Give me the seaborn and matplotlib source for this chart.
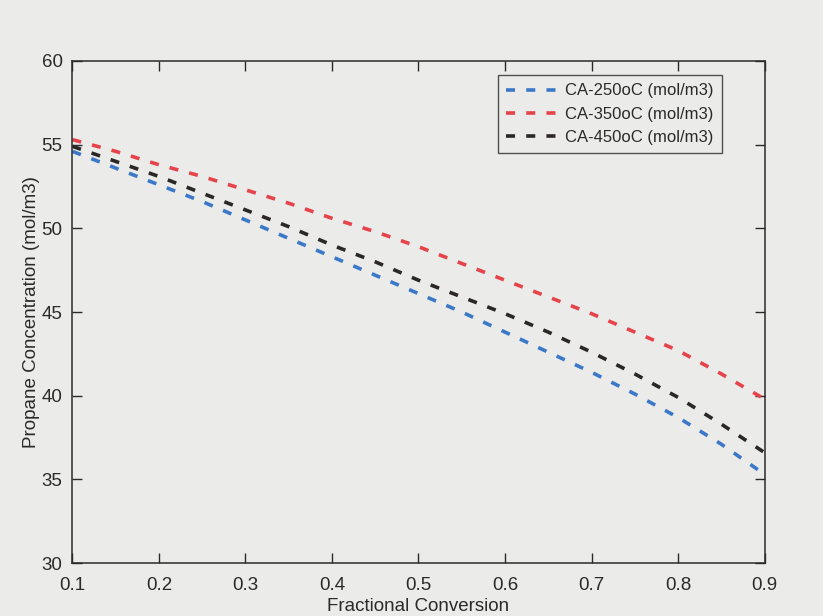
import numpy as np
import pandas as pd
import seaborn as sns
import matplotlib.pyplot as plt

# fractional conversion (x axis)
conversion = [0.10, 0.15, 0.20, 0.25, 0.30, 0.35, 0.40, 0.45, 0.50,
              0.55, 0.60, 0.65, 0.70, 0.75, 0.80, 0.85, 0.90]

# propane concentration (mol/m3)
ca_250 = [54.6, 53.6, 52.6, 51.6, 50.5, 49.4, 48.3, 47.2, 46.1,
          45.0, 43.8, 42.6, 41.4, 40.1, 38.7, 37.1, 35.3]
ca_350 = [55.3, 54.6, 53.8, 53.1, 52.3, 51.5, 50.6, 49.8, 48.9,
          47.9, 46.9, 45.9, 44.9, 43.8, 42.7, 41.3, 39.8]
ca_450 = [54.9, 54.0, 53.1, 52.1, 51.1, 50.1, 49.0, 48.0, 46.9,
          45.9, 44.9, 43.8, 42.6, 41.3, 39.9, 38.3, 36.6]

labels = ["CA-250oC (mol/m3)", "CA-350oC (mol/m3)", "CA-450oC (mol/m3)"]
colors = ["#3b78c8", "#e5444b", "#2b2727"]

x_ticks = [0.1, 0.2, 0.3, 0.4, 0.5, 0.6, 0.7, 0.8, 0.9]
y_ticks = [30, 35, 40, 45, 50, 55, 60]


def main():
    df = pd.DataFrame({
        "Fractional Conversion": conversion * 3,
        "Concentration": ca_250 + ca_350 + ca_450,
        "Series": [labels[0]] * len(conversion) + [labels[1]] * len(conversion)
                  + [labels[2]] * len(conversion),
    })

    sns.set_style("ticks")
    plt.rcParams["font.family"] = ["Liberation Sans", "DejaVu Sans"]

    paper = "#ebebea"
    ink = "#2a2a2a"
    fig = plt.figure(figsize=(8.23, 6.16), dpi=100, facecolor=paper)
    ax = fig.add_axes([0.088, 0.086, 0.841, 0.815], facecolor=paper)

    sns.lineplot(data=df, x="Fractional Conversion", y="Concentration",
                 hue="Series", style="Series", palette=colors,
                 dashes=[(2.5, 3.1)] * 3, linewidth=2.6, ax=ax)

    ax.set_xlim(0.1, 0.9)
    ax.set_ylim(30, 60)
    ax.set_xticks(x_ticks)
    ax.set_yticks(y_ticks)
    ax.set_xticklabels([f"{t:.1f}" for t in x_ticks])
    ax.tick_params(direction="in", length=7, width=1, labelsize=13.5,
                   colors=ink, top=True, right=True)
    ax.tick_params(axis="x", pad=10)
    ax.tick_params(axis="y", pad=7)
    for s in ax.spines.values():
        s.set_color(ink)
        s.set_linewidth(1.1)

    ax.set_xlabel("Fractional Conversion", fontsize=13.5, color=ink, labelpad=3)
    ax.set_ylabel("Propane Concentration (mol/m3)", fontsize=13.5,
                  color=ink, labelpad=1)

    leg = ax.legend(loc="upper right", bbox_to_anchor=(0.938, 0.972),
                    borderaxespad=0, fontsize=12, frameon=True, fancybox=False,
                    handlelength=3.2, borderpad=0.5, labelspacing=0.5,
                    handletextpad=0.3, title=None)
    leg.get_frame().set_edgecolor(ink)
    leg.get_frame().set_facecolor(paper)
    leg.get_frame().set_linewidth(1.0)
    for t in leg.get_texts():
        t.set_color(ink)

    fig.savefig("out.png", dpi=100, facecolor=paper)


if __name__ == "__main__":
    main()
